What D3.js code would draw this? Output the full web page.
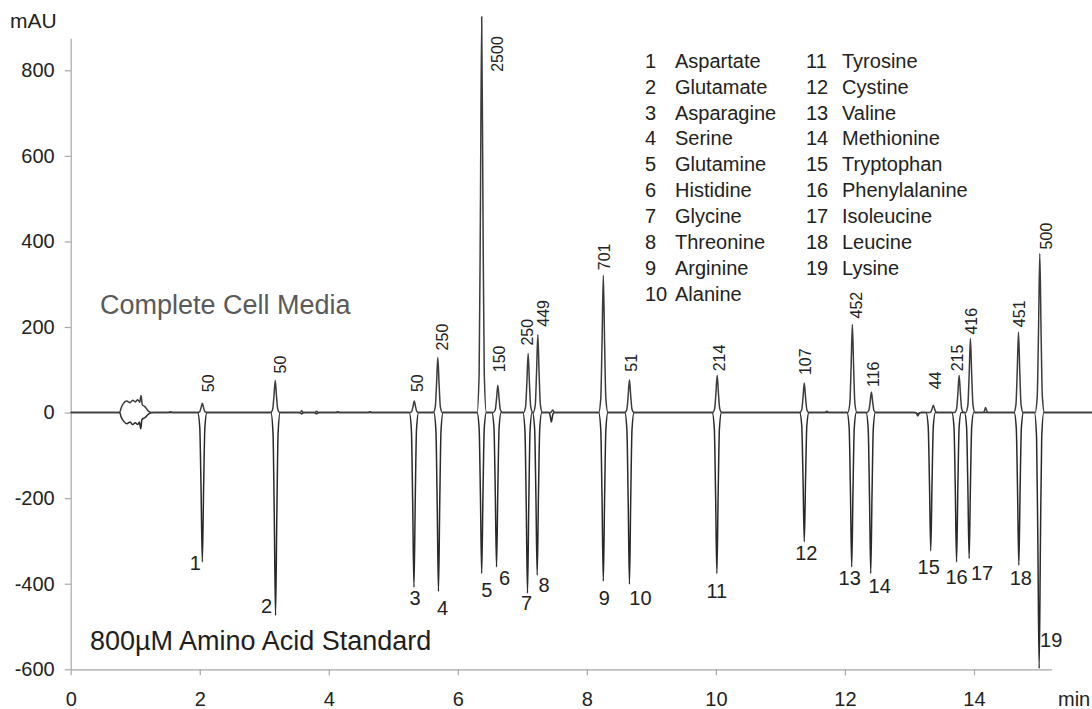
<!DOCTYPE html>
<html>
<head>
<meta charset="utf-8">
<script src="https://cdn.jsdelivr.net/npm/d3@7"></script>
<style>
  body { margin: 0; background: #fff; }
  svg { display: block; font-family: "Liberation Sans", Arial, sans-serif; }
</style>
</head>
<body>
<div class="chart"></div>
<script>
// peaks 1..19: retention time (min) and height (mAU)
const peakIds = d3.range(1, 20);
const aminoAcids = ['Aspartate', 'Glutamate', 'Asparagine', 'Serine', 'Glutamine', 'Histidine', 'Glycine',
  'Threonine', 'Arginine', 'Alanine', 'Tyrosine', 'Cystine', 'Valine', 'Methionine', 'Tryptophan',
  'Phenylalanine', 'Isoleucine', 'Leucine', 'Lysine'];

// Complete Cell Media (positive trace)
const mediaTimes = [2.04, 3.17, 5.325, 5.69, 6.37, 6.62, 7.09, 7.24, 8.255, 8.66, 10.02, 11.37, 12.115, 12.41, 13.37, 13.77, 13.945, 14.69, 15.02];
const mediaHeights = [22, 75, 27, 129, 925, 64, 138, 182, 321, 77, 87, 69, 206, 48, 17, 87, 173, 188, 372];
const mediaConc = ['50', '50', '50', '250', '2500', '150', '250', '449', '701', '51', '214', '107', '452', '116', '44', '215', '416', '451', '500'];
const mediaMinor = [[1.55, 2], [3.58, 4], [3.81, 3], [4.14, 2], [4.64, 2], [7.47, 6], [11.72, 3], [13.13, -8], [14.18, 12]];
const mediaNoise = [[0.76, 0], [0.78, 10], [0.82, 22], [0.87, 27], [0.92, 23], [0.96, 29], [1.0, 25], [1.04, 30], [1.07, 24], [1.09, 40], [1.11, 18], [1.15, 14], [1.2, 4], [1.26, 0]];

// 800uM Amino Acid Standard (negative trace)
const stdTimes = [2.04, 3.175, 5.32, 5.70, 6.37, 6.60, 7.08, 7.23, 8.255, 8.66, 10.015, 11.37, 12.105, 12.40, 13.33, 13.73, 13.925, 14.695, 15.01];
const stdHeights = [-349, -474, -408, -418, -376, -361, -422, -380, -394, -401, -376, -302, -361, -376, -323, -349, -341, -357, -598];
const stdMinor = [[3.58, -3], [3.81, -3], [7.45, -22], [13.13, -4]];
const stdNoise = [[0.76, 0], [0.78, -10], [0.82, -20], [0.87, -26], [0.92, -22], [0.96, -28], [1.0, -24], [1.04, -28], [1.065, -22], [1.085, -38], [1.105, -16], [1.15, -12], [1.21, -3], [1.28, 0]];

const xTicks = [0, 2, 4, 6, 8, 10, 12, 14];
const yTicks = [-600, -400, -200, 0, 200, 400, 600, 800];

// label nudges in px [dx, dy] (layout only)
const mediaLabelNudge = [[6, -11], [5, -7], [3, -9], [5, -7], [16, 55], [2, -13], [-1, -8], [6, -8], [1, -5], [2, -8], [2, -4], [1, -8], [4, -6], [2, -5], [2, -16], [-2, -4], [1, -4], [1, -5], [7, -4]];
const stdLabelNudge = [[-7, 8], [-9, -2], [1, 18], [4, 24], [5, 24], [8, 18], [-1, 17], [7, 17], [1, 24], [11, 21], [0, 25], [2, 18], [-2, 18], [9, 20], [-2, 23], [0, 22], [13, 22], [2, 20], [12, -21]];

const W = 1092, H = 709;
const svg = d3.select('.chart').append('svg')
    .attr('width', W)
    .attr('height', H);

const x = d3.scaleLinear().domain([0, 15.2]).range([70.7, 1051.4]);
const y = d3.scaleLinear().domain([-600, 875]).range([669.3, 38.2]);

// axes
const xAxis = d3.axisBottom(x).tickValues(xTicks).tickSize(6).tickSizeOuter(0).tickPadding(17)
    .tickFormat(d => String(d));
const yAxis = d3.axisLeft(y).tickValues(yTicks).tickSize(6).tickSizeOuter(0).tickPadding(10)
    .tickFormat(d => String(d));

const gx = svg.append('g').attr('transform', `translate(0, ${y(-600)})`).call(xAxis);
const gy = svg.append('g').attr('transform', `translate(${x(0)}, 0)`).call(yAxis);
[gx, gy].forEach(g => {
  g.select('.domain').attr('stroke', '#a8a8a8').attr('stroke-width', 1.2);
  g.selectAll('.tick line').attr('stroke', '#a8a8a8').attr('stroke-width', 1.2);
  g.selectAll('.tick text').attr('fill', '#222').style('font-size', '20px')
    .style('font-family', '"Liberation Sans", Arial, sans-serif');
});

svg.append('text').attr('x', 10).attr('y', 28).text('mAU')
    .attr('fill', '#222').style('font-size', '21px');
svg.append('text').attr('x', 1058).attr('y', 706).text('min')
    .attr('fill', '#222').style('font-size', '20px');

// peak shape template, scaled per peak
const shape = [[-1, 0], [-0.55, 0.1], [-0.28, 0.5], [0, 1], [0.28, 0.5], [0.55, 0.1], [1, 0]];
function knots(times, heights, minor, noise) {
  const pts = [[0, 0], [15.85, 0]].concat(noise);
  times.forEach((t, i) => shape.forEach(s => pts.push([t + s[0] * 0.072, heights[i] * s[1]])));
  minor.forEach(m => shape.forEach(s => pts.push([m[0] + s[0] * 0.05, m[1] * s[1]])));
  return pts.sort((a, b) => a[0] - b[0]);
}

const line = d3.line()
    .x(d => x(d[0]))
    .y(d => y(d[1]))
    .curve(d3.curveMonotoneX);

svg.append('path')
    .datum(knots(stdTimes, stdHeights, stdMinor, stdNoise))
    .attr('d', line)
    .attr('fill', 'none')
    .attr('stroke', '#2a2a2a')
    .attr('stroke-width', 1.5);

svg.append('path')
    .datum(knots(mediaTimes, mediaHeights, mediaMinor, mediaNoise))
    .attr('d', line)
    .attr('fill', 'none')
    .attr('stroke', '#3c3c3c')
    .attr('stroke-width', 1.5);

// concentration labels above media peaks
svg.append('g').selectAll('text')
  .data(mediaConc)
  .join('text')
    .attr('transform', (d, i) => `translate(${x(mediaTimes[i]) + mediaLabelNudge[i][0]}, ${y(mediaHeights[i]) + mediaLabelNudge[i][1]}) rotate(-90)`)
    .attr('dy', '0.35em')
    .attr('fill', '#222')
    .style('font-size', '16px')
    .text(d => d);

// peak numbers under standard peaks
svg.append('g').selectAll('text')
  .data(peakIds)
  .join('text')
    .attr('x', (d, i) => x(stdTimes[i]) + stdLabelNudge[i][0])
    .attr('y', (d, i) => y(stdHeights[i]) + stdLabelNudge[i][1])
    .attr('text-anchor', 'middle')
    .attr('fill', '#222')
    .style('font-size', '20px')
    .text(d => d);

// trace titles
svg.append('text').attr('x', 100).attr('y', 314).text('Complete Cell Media')
    .attr('fill', '#5a5a5a').style('font-size', '27px');
svg.append('text').attr('x', 90).attr('y', 650).text('800\u00B5M Amino Acid Standard')
    .attr('fill', '#1e1e1e').style('font-size', '27px');

// legend, two columns
const legend = svg.append('g').style('font-size', '20px').attr('fill', '#222');
legend.selectAll('g')
  .data(aminoAcids)
  .join('g')
    .attr('transform', (d, i) => `translate(${i < 10 ? 645 : 806}, ${67.7 + (i % 10) * 25.9})`)
    .call(g => {
      g.append('text').text((d, i) => peakIds[i]);
      g.append('text').attr('x', (d, i) => i < 10 ? 30 : 36).text(d => d);
    });
</script>
</body>
</html>
